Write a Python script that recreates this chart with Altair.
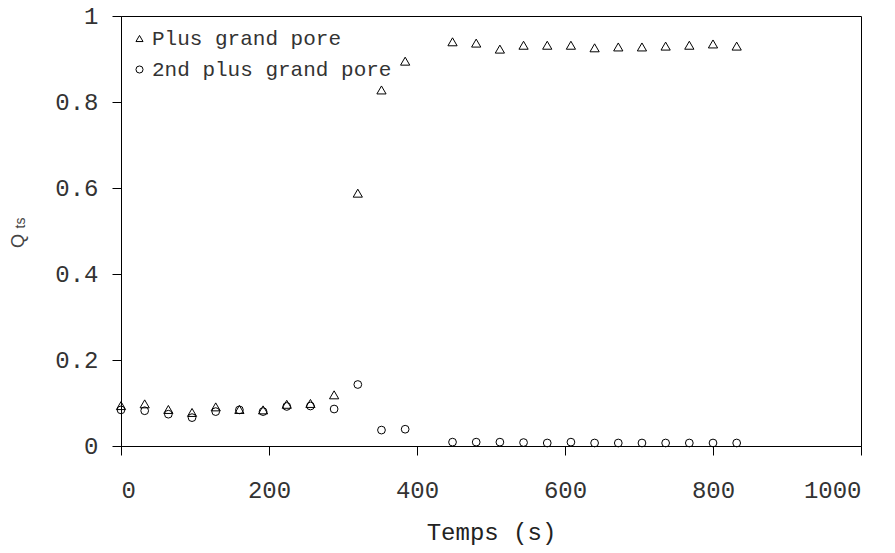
import altair as alt
import pandas as pd

# ---- data ----
times = [0, 32, 64, 96, 128, 160, 192, 224, 256, 288, 320, 352, 384,
         448, 480, 512, 544, 576, 608, 640, 672, 704, 736, 768, 800, 832]
plus_grand = [0.094, 0.098, 0.085, 0.078, 0.091, 0.085, 0.084, 0.097, 0.099, 0.119,
              0.588, 0.828, 0.895, 0.940, 0.937, 0.923, 0.932, 0.932, 0.932, 0.926,
              0.928, 0.928, 0.930, 0.932, 0.935, 0.930]
second_grand = [0.084, 0.082, 0.074, 0.066, 0.080, 0.084, 0.080, 0.092, 0.093, 0.086,
                0.143, 0.037, 0.039, 0.009, 0.009, 0.009, 0.008, 0.007, 0.009, 0.007,
                0.007, 0.007, 0.007, 0.007, 0.007, 0.007]
series_names = ["Plus grand pore", "2nd plus grand pore"]
x_ticks = [0, 200, 400, 600, 800, 1000]
y_ticks = [0, 0.2, 0.4, 0.6, 0.8, 1]

df1 = pd.DataFrame({"t": times, "q": plus_grand, "serie": series_names[0]})
df2 = pd.DataFrame({"t": times, "q": second_grand, "serie": series_names[1]})

MONO = "Liberation Mono"

x_enc = alt.X("t:Q", scale=alt.Scale(domain=[0, 1000], nice=False),
              axis=alt.Axis(values=x_ticks, format="d", title="Temps (s)", labelPadding=23,
                            titlePadding=18, grid=False))
y_enc = alt.Y("q:Q", scale=alt.Scale(domain=[0, 1], nice=False),
              axis=alt.Axis(values=y_ticks, format="~g", title=None, labelPadding=14, grid=False))
shape_enc = alt.Shape("serie:N",
                      scale=alt.Scale(domain=series_names, range=["triangle-up", "circle"]),
                      legend=alt.Legend(title=None, orient="none", legendX=8, legendY=12,
                                        labelFont=MONO, labelFontSize=21, labelColor="#333",
                                        labelLimit=0,
                                        symbolSize=50, symbolStrokeColor="black",
                                        symbolFillColor="transparent", symbolStrokeWidth=1,
                                        rowPadding=9, labelOffset=2, padding=0))

tri = alt.Chart(df1).mark_point(filled=False, color="black", strokeWidth=1, opacity=1, size=85).encode(
    x=x_enc, y=y_enc, shape=shape_enc)
circ = alt.Chart(df2).mark_point(filled=False, color="black", strokeWidth=1, opacity=1, size=60).encode(
    x=x_enc, y=y_enc, shape=shape_enc)

title_q = alt.Chart(pd.DataFrame({"s": ["Q"]})).mark_text(
    font="Liberation Sans", fontSize=18, angle=270, color="#444",
    align="center", baseline="middle").encode(
    text="s:N", x=alt.value(-102), y=alt.value(225))
title_ts = alt.Chart(pd.DataFrame({"s": ["ts"]})).mark_text(
    font="Liberation Sans", fontSize=14, angle=270, color="#444",
    align="center", baseline="middle").encode(
    text="s:N", x=alt.value(-100), y=alt.value(207))

chart = alt.layer(tri, circ, title_q, title_ts).properties(
    width=740, height=430,
    autosize=alt.AutoSizeParams(type="none"),
    padding={"left": 113, "top": 8, "right": 26, "bottom": 99},
).configure_view(stroke="black", strokeWidth=1).configure_axis(
    labelFont=MONO, labelFontSize=24, labelColor="#333",
    titleFont=MONO, titleFontSize=24, titleFontWeight="normal", titleColor="#222",
    domainColor="black", tickColor="black", tickSize=9, domainWidth=1, tickWidth=1,
)

chart.save("out.html", embed_options={"renderer": "svg", "actions": False})
